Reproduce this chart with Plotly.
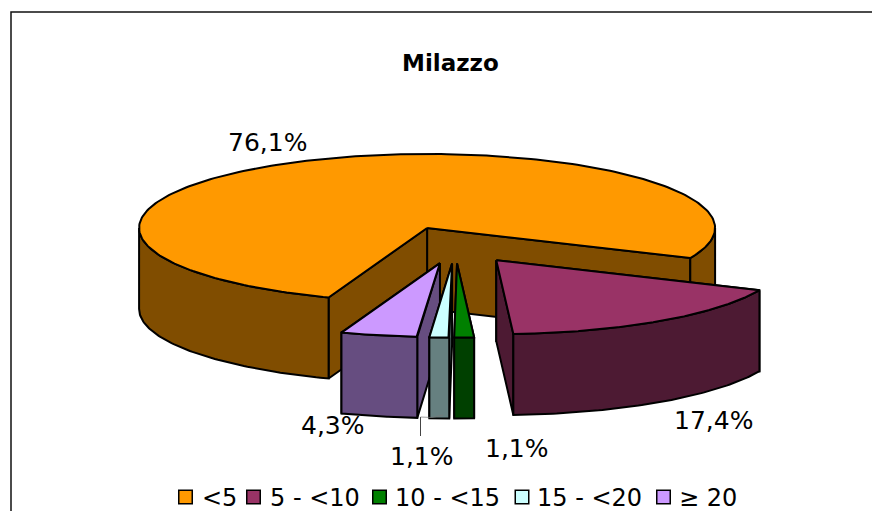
import numpy as np
import plotly.graph_objects as go

# --- data ---
title = "Milazzo"
categories = ["&lt;5", "5 - &lt;10", "10 - &lt;15", "15 - &lt;20", "≥ 20"]
percent = [76.1, 17.4, 1.1, 1.1, 4.3]
top_colors = ["#FF9900", "#993366", "#008000", "#CCFFFF", "#CC99FF"]
side_colors = ["#804D00", "#4D1A33", "#004000", "#668080", "#664D80"]

# --- projection of the exploded 3-D pie ---
CX, CY = 455.25, 245.0
RX, RY = 288.0, 74.0
DEPTH = 81.0
EXPLODE = 0.25
FIRST_ANGLE = 200.0
FONT = "DejaVu Sans, Verdana, sans-serif"


def point(ax, ay, deg, r=1.0):
    t = np.radians(deg)
    return ax + r * RX * np.sin(t), ay - r * RY * np.cos(t)


def poly(fig, xs, ys, color):
    xs, ys = list(xs), list(ys)
    fig.add_trace(go.Scatter(
        x=xs + xs[:1], y=ys + ys[:1], mode="lines", fill="toself",
        fillcolor=color, line=dict(color="black", width=2),
        showlegend=False, hoverinfo="skip"))


fig = go.Figure()
total = sum(percent)
angle = FIRST_ANGLE
slices = []
for v, tc, sc in zip(percent, top_colors, side_colors):
    sweep = 360.0 * v / total
    slices.append((angle, angle + sweep, tc, sc))
    angle += sweep

# painter's order: the large slice first, then the front slices left to right
draw_order = [0, 4, 3, 2, 1]
for i in draw_order:
    a, b, tc, sc = slices[i]
    mid = (a + b) / 2
    ax, ay = point(CX, CY, mid, EXPLODE)

    # cut faces, rear one first
    for edge in sorted([a, b], key=lambda d: point(ax, ay, d)[1]):
        ox, oy = point(ax, ay, edge)
        poly(fig, [ax, ox, ox, ax], [ay, oy, oy + DEPTH, ay + DEPTH], sc)

    # outer wall: only the front half of the rim shows
    for lo, hi in ((90, 270), (450, 630)):
        s, e = max(a, lo), min(b, hi)
        if e > s:
            th = np.linspace(s, e, 80)
            px, py = point(ax, ay, th)
            poly(fig, np.r_[px, px[::-1]], np.r_[py, py[::-1] + DEPTH], sc)

    # top face
    th = np.linspace(a, b, 240)
    px, py = point(ax, ay, th)
    poly(fig, np.r_[ax, px], np.r_[ay, py], tc)

# leader line of the 15 - <20 label
fig.add_trace(go.Scatter(x=[420.5, 420.5], y=[417, 436], mode="lines",
                         line=dict(color="#444444", width=1),
                         showlegend=False, hoverinfo="skip"))
fig.add_trace(go.Scatter(x=[420.5, 432, 443], y=[417, 417.5, 415], mode="lines",
                         line=dict(color="#777777", width=0.7),
                         showlegend=False, hoverinfo="skip"))

# percentage labels
label_anchor = [(267, 142), (713, 420), (517, 448), (422, 456), (333, 425)]
for v, (lx, ly) in zip(percent, label_anchor):
    fig.add_annotation(x=lx, y=ly, text=f"{v:.1f}".replace(".", ",") + "%",
                       showarrow=False, xref="x", yref="y",
                       font=dict(family=FONT, size=25, color="black"))

# legend row: swatch plus name for each category
swatch_x = [185.5, 253.5, 379.5, 522, 663.5]
text_x = [200, 268, 393, 535, 677]
for name, tc, sx, tx in zip(categories, top_colors, swatch_x, text_x):
    fig.add_trace(go.Scatter(
        x=[sx], y=[497], mode="markers", showlegend=False, hoverinfo="skip",
        marker=dict(symbol="square", size=13.5, color=tc,
                    line=dict(color="black", width=1.5))))
    fig.add_annotation(x=tx, y=497.5, text=name, showarrow=False, xanchor="left",
                       font=dict(family=FONT, size=24, color="black"))

fig.add_annotation(x=450, y=63, text=f"<b>{title}</b>", showarrow=False,
                   font=dict(family=FONT, size=23, color="black"))

fig.add_shape(type="rect", x0=11, y0=12, x1=900, y1=540, xref="x", yref="y",
              line=dict(color="#111111", width=1.5), layer="below")

fig.update_layout(
    width=872, height=511, margin=dict(l=0, r=0, t=0, b=0),
    paper_bgcolor="white", plot_bgcolor="white", showlegend=False,
    xaxis=dict(range=[0, 872], visible=False, fixedrange=True),
    yaxis=dict(range=[511, 0], visible=False, fixedrange=True),
    font=dict(family=FONT, size=24, color="black"),
)
fig.write_html("out.html", config={"displayModeBar": False},
               post_script="document.body.style.margin='0';")
